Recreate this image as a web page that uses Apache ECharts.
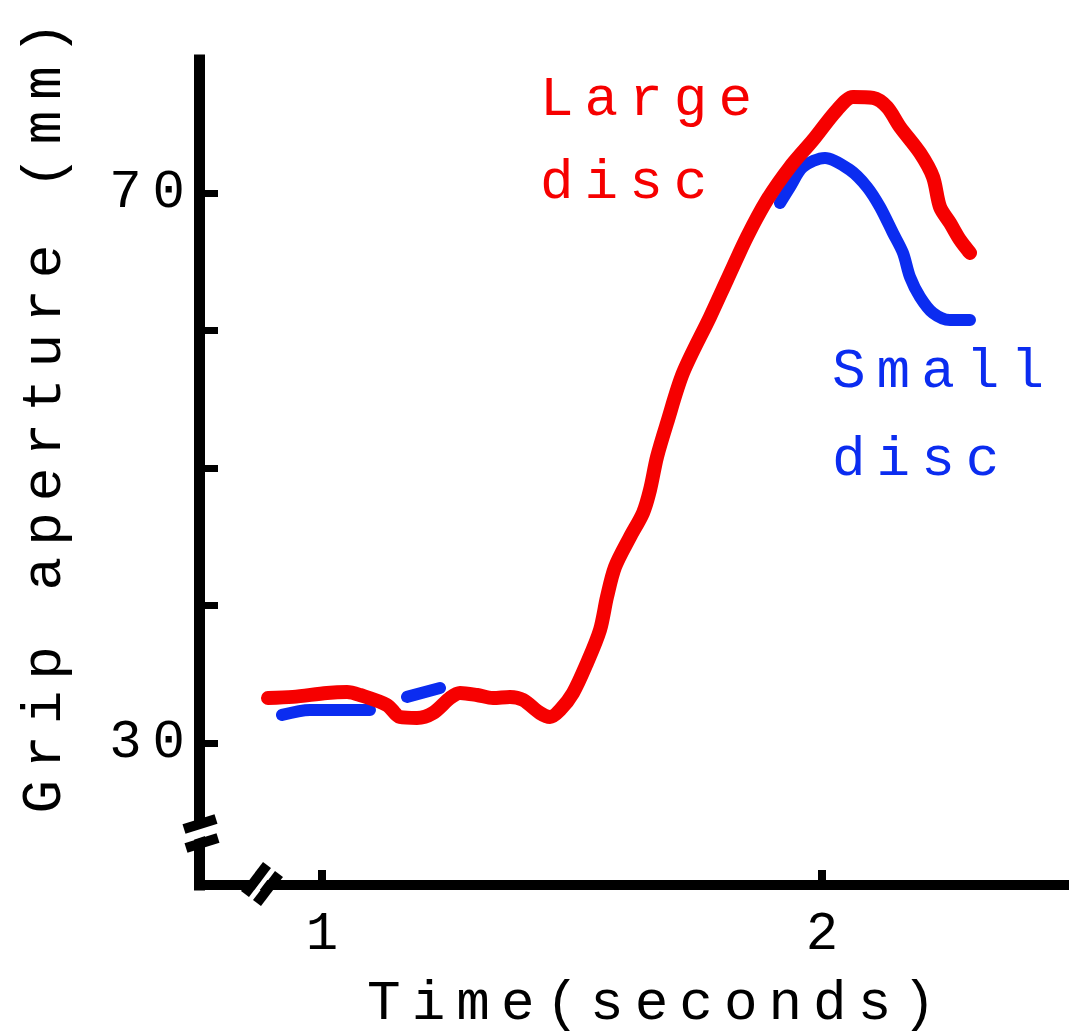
<!DOCTYPE html>
<html>
<head>
<meta charset="utf-8">
<script src="https://cdn.jsdelivr.net/npm/echarts@6/dist/echarts.min.js"></script>
<style>
html,body{margin:0;padding:0;background:#fff;}
#c{width:1069px;height:1036px;}
#c text{letter-spacing:11px;}
</style>
</head>
<body>
<div id="c"></div>
<script>
// Data: [time (s), grip aperture (mm)]
const largeDisc = [
  [0.892,33.27],[0.942,33.35],[1.010,33.64],[1.050,33.71],[1.076,33.49],[1.130,32.76],
  [1.156,31.89],[1.190,31.82],[1.222,32.18],[1.256,33.27],[1.276,33.64],[1.310,33.49],
  [1.342,33.27],[1.376,33.35],[1.402,33.13],[1.436,32.18],[1.456,31.89],[1.476,32.40],
  [1.502,33.64],[1.530,35.82],[1.556,38.22],[1.570,40.62],[1.586,42.80],[1.616,44.98],
  [1.642,46.73],[1.656,48.40],[1.670,50.80],[1.690,53.27],[1.722,56.91],[1.776,60.98],
  [1.810,63.67],[1.850,66.80],[1.890,69.49],[1.936,71.89],[1.982,73.85],[2.030,76.04],
  [2.062,76.98],[2.102,76.91],[2.130,76.25],[2.156,74.80],[2.196,72.91],[2.222,71.16],
  [2.236,68.98],[2.256,67.82],[2.276,66.58],[2.296,65.64]
];
const smallDisc = [
  [0.920,32.04],[0.976,32.40],[1.096,32.40],
  [1.130,null],
  [1.170,33.35],[1.236,34.00],
  [1.600,null],
  [1.916,69.27],[1.936,70.44],[1.962,71.89],[2.006,72.55],[2.056,71.67],[2.090,70.44],
  [2.116,68.98],[2.142,67.09],[2.162,65.64],[2.176,63.89],[2.196,62.44],[2.222,61.27],
  [2.256,60.76],[2.296,60.76]
];
const yTicks = [30,40,50,60,70];
const yTickLabels = [30,70];
const xTicks = [1,2];
const xTickLabels = [1,2];

const FONT = '"Liberation Mono", "DejaVu Sans Mono", monospace';
const RED = '#f60000';
const BLUE = '#0b2cf0';

const chart = echarts.init(document.getElementById('c'), null, {renderer:'svg'});
chart.setOption({
  backgroundColor:'#ffffff',
  animation:false,
  grid:{left:199, right:0, top:60, bottom:151, containLabel:false},
  xAxis:{
    type:'value', min:0.754, max:2.494,
    splitLine:{show:false},
    axisLine:{show:true, onZero:false, lineStyle:{color:'#000', width:10, cap:'square'}},
    axisTick:{show:true, inside:true, length:15, customValues:xTicks, lineStyle:{color:'#000', width:8}},
    axisLabel:{show:true, customValues:xTickLabels, margin:22, padding:[0,0,0,11], color:'#000', fontSize:54, fontFamily:FONT}
  },
  yAxis:{
    type:'value', min:19.67, max:79.67,
    splitLine:{show:false},
    axisLine:{show:true, onZero:false, lineStyle:{color:'#000', width:11, cap:'square'}},
    axisTick:{show:true, inside:true, length:19, customValues:yTicks, lineStyle:{color:'#000', width:7}},
    axisLabel:{show:true, customValues:yTickLabels, margin:3, color:'#000', fontSize:54, fontFamily:FONT}
  },
  series:[
    {type:'line', name:'Large disc', data:largeDisc, showSymbol:false, smooth:0.3, connectNulls:false,
     lineStyle:{color:RED, width:14, cap:'round', join:'round'}, z:3},
    {type:'line', name:'Small disc', data:smallDisc, showSymbol:false, smooth:0.3, connectNulls:false,
     lineStyle:{color:BLUE, width:12, cap:'round', join:'round'}, z:2}
  ],
  graphic:[
    {type:'text', x:45, y:412, rotation:Math.PI/2, z:100,
     style:{text:'Grip aperture (mm)', font:'56px '+FONT, fill:'#000', textAlign:'center', textVerticalAlign:'middle'}},
    {type:'text', x:657, y:1004, z:100,
     style:{text:'Time(seconds)', font:'56px '+FONT, fill:'#000', textAlign:'center', textVerticalAlign:'middle'}},
    {type:'text', x:540, y:100, z:100,
     style:{text:'Large', font:'56px '+FONT, fill:RED, textAlign:'left', textVerticalAlign:'middle'}},
    {type:'text', x:540, y:183, z:100,
     style:{text:'disc', font:'56px '+FONT, fill:RED, textAlign:'left', textVerticalAlign:'middle'}},
    {type:'text', x:832, y:372, z:100,
     style:{text:'Small', font:'56px '+FONT, fill:BLUE, textAlign:'left', textVerticalAlign:'middle'}},
    {type:'text', x:832, y:460, z:100,
     style:{text:'disc', font:'56px '+FONT, fill:BLUE, textAlign:'left', textVerticalAlign:'middle'}},
    // y-axis break
    {type:'line', z:100, shape:{x1:188, y1:837, x2:212, y2:829}, style:{stroke:'#fff', lineWidth:9}},
    {type:'line', z:101, shape:{x1:184, y1:829, x2:216, y2:819}, style:{stroke:'#000', lineWidth:10}},
    {type:'line', z:101, shape:{x1:186, y1:848, x2:218, y2:838}, style:{stroke:'#000', lineWidth:10}},
    // x-axis break
    {type:'line', z:100, shape:{x1:250, y1:899, x2:274, y2:866}, style:{stroke:'#fff', lineWidth:4}},
    {type:'line', z:101, shape:{x1:245, y1:894, x2:267, y2:865}, style:{stroke:'#000', lineWidth:10}},
    {type:'line', z:101, shape:{x1:257, y1:903, x2:279, y2:874}, style:{stroke:'#000', lineWidth:10}},
    {type:'line', z:102, shape:{x1:251, y1:899, x2:273, y2:870}, style:{stroke:'#fff', lineWidth:3}}
  ]
});
</script>
</body>
</html>
